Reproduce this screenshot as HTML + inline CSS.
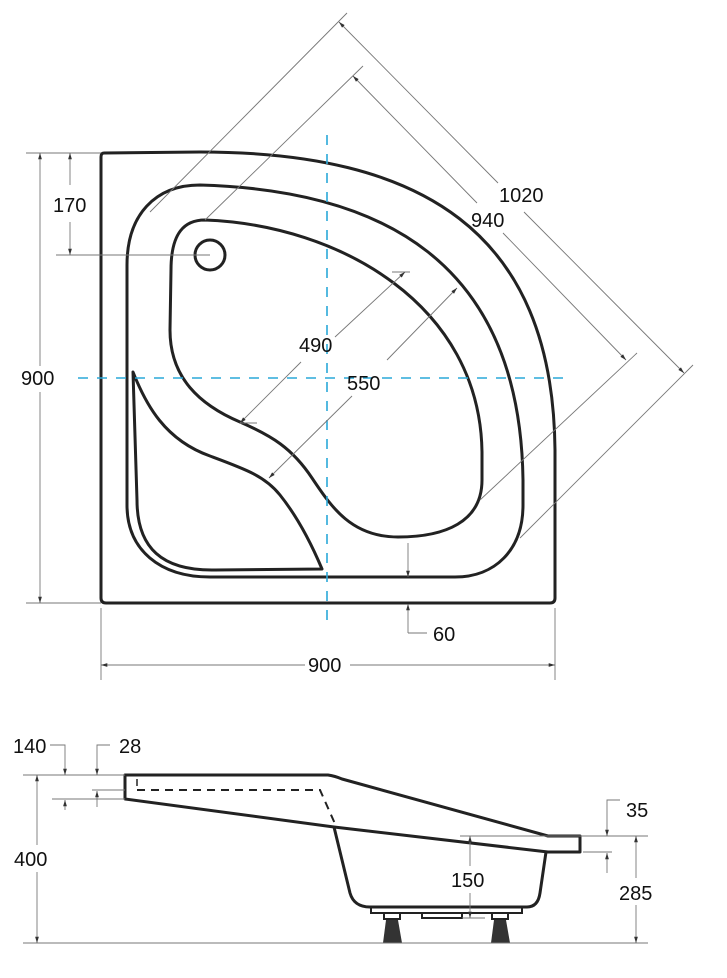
<!DOCTYPE html>
<html><head><meta charset="utf-8"><style>
html,body{margin:0;padding:0;background:#fff;}
svg{display:block;}
text{font-family:"Liberation Sans",Arial,sans-serif;font-size:20px;fill:#111;}
</style></head><body>
<svg width="727" height="978" viewBox="0 0 727 978" xmlns="http://www.w3.org/2000/svg">
<defs>
<marker id="a" viewBox="0 0 10 10" refX="10" refY="5" markerWidth="7" markerHeight="7" orient="auto-start-reverse"><path d="M0,2 L10,5 L0,8 Z" fill="#333"/></marker>
</defs>
<g fill="none" stroke="#222" stroke-width="3" stroke-linejoin="round">
<path d="M104,153 L200,152 C420,152 553,230 555,450 L555,598 Q555,603 550,603 L106,603 Q101,603 101,598 L101,157 Q101,153 104,153 Z"/>
<path d="M127,265 C127,215 155,185 200,185 C380,190 520,260 523,480 L523,505 C523,550 495,577 455,577 L210,577 C160,577 127,550 127,505 Z"/>
<path d="M205,220 C185,220 171,232 171,270 L170,330 C170,378 200,405 240,422 C272,436 292,448 312,478 C332,508 352,537 398,537 C445,537 482,522 482,480 L482,452 C480,305 340,225 205,220 Z"/>
<path d="M133,372 C146,405 165,440 210,456 C245,469 265,476 280,495 C300,520 314,550 322,569 L215,570 C162,571 137,548 137,500 Z"/>
<circle cx="210" cy="255" r="15"/>
</g>
<g stroke="#2aa8d8" stroke-width="1.6" stroke-dasharray="10,9">
<line x1="327" y1="135" x2="327" y2="628"/>
<line x1="78" y1="378" x2="572" y2="378"/>
</g>
<g stroke="#777" stroke-width="0.9" fill="none">
<line x1="26" y1="153" x2="101" y2="153"/>
<line x1="26" y1="603" x2="101" y2="603"/>
<line x1="40" y1="153" x2="40" y2="366" marker-start="url(#a)"/>
<line x1="40" y1="392" x2="40" y2="603" marker-end="url(#a)"/>
<line x1="56" y1="255" x2="210" y2="255"/>
<line x1="70" y1="153" x2="70" y2="185" marker-start="url(#a)"/>
<line x1="70" y1="222" x2="70" y2="255" marker-end="url(#a)"/>
<line x1="101" y1="608" x2="101" y2="680"/>
<line x1="555" y1="608" x2="555" y2="680"/>
<line x1="101" y1="665" x2="305" y2="665" marker-start="url(#a)"/>
<line x1="350" y1="665" x2="555" y2="665" marker-end="url(#a)"/>
<line x1="408" y1="543" x2="408" y2="577" marker-end="url(#a)"/>
<line x1="408" y1="633" x2="408" y2="604" marker-end="url(#a)"/>
<line x1="408" y1="633" x2="427" y2="633"/>
<line x1="347" y1="13" x2="150" y2="212"/>
<line x1="693" y1="365" x2="520" y2="538"/>
<line x1="339" y1="22" x2="498" y2="183" marker-start="url(#a)"/>
<line x1="524" y1="212" x2="684" y2="373" marker-end="url(#a)"/>
<line x1="363" y1="66" x2="205" y2="220"/>
<line x1="637" y1="353" x2="480" y2="500"/>
<line x1="353" y1="76" x2="477" y2="203" marker-start="url(#a)"/>
<line x1="503" y1="233" x2="626" y2="360" marker-end="url(#a)"/>
<line x1="392" y1="272" x2="410" y2="272"/>
<line x1="405" y1="272" x2="335" y2="337" marker-start="url(#a)"/>
<line x1="301" y1="362" x2="240" y2="423" marker-end="url(#a)"/>
<line x1="240" y1="423" x2="257" y2="423"/>
<line x1="457" y1="288" x2="387" y2="360" marker-start="url(#a)"/>
<line x1="352" y1="396" x2="269" y2="478" marker-end="url(#a)"/>
</g>
<text x="21" y="385">900</text>
<text x="53" y="212">170</text>
<text x="308" y="672">900</text>
<text x="433" y="641">60</text>
<text x="499" y="202">1020</text>
<text x="471" y="227">940</text>
<text x="299" y="352">490</text>
<text x="347" y="390">550</text>

<g fill="none" stroke="#222" stroke-width="3" stroke-linejoin="round">
<path d="M125,775 L328,775 Q335,776 342,779 L548,836 L580,836 L580,852 L548,852 L334,827 L125,799 Z"/>
<path d="M334,827 L350,893 Q354,907 370,907 L527,907 Q538,907 540,893 L546,852"/>
</g>
<path d="M137,790 L320,790 L336,826" fill="none" stroke="#222" stroke-width="2" stroke-dasharray="8,6"/>
<line x1="137" y1="779" x2="137" y2="786" stroke="#222" stroke-width="1.5"/>
<g fill="none" stroke="#222" stroke-width="2">
<rect x="371" y="907" width="151" height="6"/>
<rect x="422" y="913" width="40" height="5"/>
<rect x="384" y="913" width="16" height="6"/>
<rect x="492" y="913" width="16" height="6"/>
</g>
<path d="M386,920 L398,920 L402,943 L383,943 Z" fill="#333"/>
<path d="M494,920 L506,920 L510,943 L491,943 Z" fill="#333"/>
<g stroke="#777" stroke-width="0.9" fill="none">
<line x1="23" y1="943" x2="648" y2="943"/>
<line x1="23" y1="775" x2="125" y2="775"/>
<line x1="92" y1="790" x2="125" y2="790"/>
<line x1="52" y1="799" x2="125" y2="799"/>
<line x1="37" y1="775" x2="37" y2="845" marker-start="url(#a)"/>
<line x1="37" y1="872" x2="37" y2="943" marker-end="url(#a)"/>
<polyline points="50,745 65,745 65,775" marker-end="url(#a)"/>
<polyline points="110,745 97,745 97,775" marker-end="url(#a)"/>
<line x1="65" y1="810" x2="65" y2="800" marker-end="url(#a)"/>
<line x1="97" y1="807" x2="97" y2="791" marker-end="url(#a)"/>
<line x1="460" y1="836" x2="648" y2="836"/>
<line x1="583" y1="852" x2="612" y2="852"/>
<polyline points="620,800 607,800 607,836" marker-end="url(#a)"/>
<line x1="607" y1="873" x2="607" y2="853" marker-end="url(#a)"/>
<line x1="636" y1="836" x2="636" y2="878" marker-start="url(#a)"/>
<line x1="636" y1="905" x2="636" y2="943" marker-end="url(#a)"/>
<line x1="470" y1="836" x2="470" y2="866" marker-start="url(#a)"/>
<line x1="470" y1="893" x2="470" y2="918" marker-end="url(#a)"/>
<line x1="462" y1="918" x2="485" y2="918"/>
</g>
<text x="13" y="753">140</text>
<text x="119" y="753">28</text>
<text x="14" y="866">400</text>
<text x="626" y="817">35</text>
<text x="619" y="900">285</text>
<text x="451" y="887">150</text>
</svg>
</body></html>
